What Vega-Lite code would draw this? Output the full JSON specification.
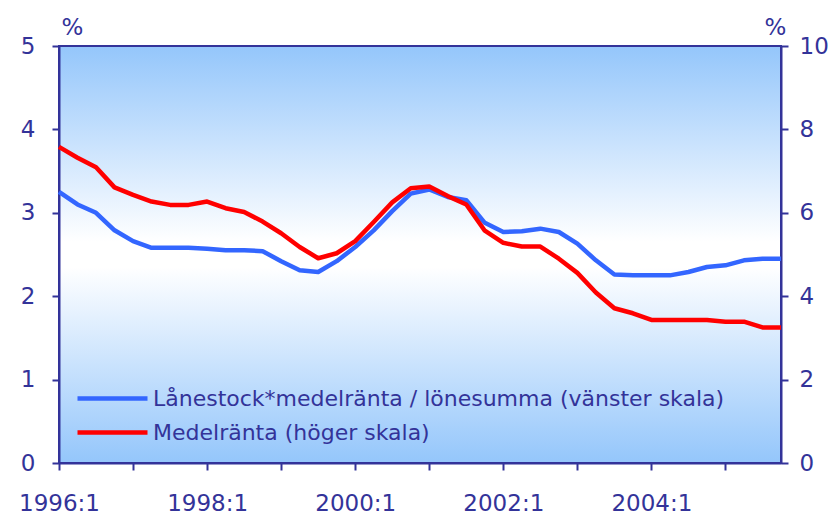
{
  "$schema": "https://vega.github.io/schema/vega-lite/v6.json",
  "width": 722,
  "height": 417,
  "autosize": {"type": "none"},
  "padding": {"left": 59, "top": 46, "right": 56, "bottom": 55},
  "background": "#ffffff",
  "config": {
    "font": "DejaVu Sans",
    "view": {
      "stroke": "#333399",
      "strokeWidth": 2,
      "fill": {"gradient": "linear", "x1": 0, "y1": 0, "x2": 0, "y2": 1,
        "stops": [{"offset": 0, "color": "#94c6fb"}, {"offset": 0.47, "color": "#ffffff"}, {"offset": 0.53, "color": "#ffffff"}, {"offset": 1, "color": "#94c6fb"}]}
    },
    "axis": {
      "domainColor": "#333399", "domainWidth": 2, "tickColor": "#333399", "tickWidth": 2, "tickSize": 7,
      "labelColor": "#333399", "labelFontSize": 23, "labelFont": "DejaVu Sans", "grid": false,
      "titleColor": "#333399", "titleFontSize": 23, "titleFontWeight": "normal", "titleFont": "DejaVu Sans"
    }
  },
  "data": {"values": [
    {"t": 1996.00, "lane": 3.25, "medel": 7.58},
    {"t": 1996.25, "lane": 3.10, "medel": 7.32},
    {"t": 1996.50, "lane": 3.00, "medel": 7.09},
    {"t": 1996.75, "lane": 2.79, "medel": 6.61},
    {"t": 1997.00, "lane": 2.66, "medel": 6.43},
    {"t": 1997.25, "lane": 2.58, "medel": 6.27},
    {"t": 1997.50, "lane": 2.58, "medel": 6.19},
    {"t": 1997.75, "lane": 2.58, "medel": 6.19},
    {"t": 1998.00, "lane": 2.57, "medel": 6.27},
    {"t": 1998.25, "lane": 2.55, "medel": 6.11},
    {"t": 1998.50, "lane": 2.55, "medel": 6.02},
    {"t": 1998.75, "lane": 2.54, "medel": 5.79},
    {"t": 1999.00, "lane": 2.42, "medel": 5.51},
    {"t": 1999.25, "lane": 2.31, "medel": 5.18},
    {"t": 1999.50, "lane": 2.29, "medel": 4.91},
    {"t": 1999.75, "lane": 2.42, "medel": 5.03},
    {"t": 2000.00, "lane": 2.59, "medel": 5.32},
    {"t": 2000.25, "lane": 2.79, "medel": 5.78},
    {"t": 2000.50, "lane": 3.02, "medel": 6.25},
    {"t": 2000.75, "lane": 3.23, "medel": 6.59},
    {"t": 2001.00, "lane": 3.28, "medel": 6.63},
    {"t": 2001.25, "lane": 3.19, "medel": 6.40},
    {"t": 2001.50, "lane": 3.15, "medel": 6.20},
    {"t": 2001.75, "lane": 2.88, "medel": 5.57},
    {"t": 2002.00, "lane": 2.77, "medel": 5.28},
    {"t": 2002.25, "lane": 2.78, "medel": 5.19},
    {"t": 2002.50, "lane": 2.81, "medel": 5.19},
    {"t": 2002.75, "lane": 2.77, "medel": 4.90},
    {"t": 2003.00, "lane": 2.63, "medel": 4.56},
    {"t": 2003.25, "lane": 2.43, "medel": 4.09},
    {"t": 2003.50, "lane": 2.26, "medel": 3.71},
    {"t": 2003.75, "lane": 2.25, "medel": 3.59},
    {"t": 2004.00, "lane": 2.25, "medel": 3.43},
    {"t": 2004.25, "lane": 2.25, "medel": 3.43},
    {"t": 2004.50, "lane": 2.29, "medel": 3.43},
    {"t": 2004.75, "lane": 2.35, "medel": 3.43},
    {"t": 2005.00, "lane": 2.37, "medel": 3.39},
    {"t": 2005.25, "lane": 2.43, "medel": 3.39},
    {"t": 2005.50, "lane": 2.45, "medel": 3.25},
    {"t": 2005.75, "lane": 2.45, "medel": 3.25}
  ]},
  "encoding": {
    "x": {
      "field": "t", "type": "quantitative",
      "scale": {"domain": [1996, 2005.75], "nice": false, "zero": false},
      "axis": {
        "title": null,
        "values": [1996, 1997, 1998, 1999, 2000, 2001, 2002, 2003, 2004, 2005],
        "labelExpr": "datum.value % 2 == 0 ? format(datum.value, 'd') + ':1' : ''",
        "labelPadding": 22, "labelFlush": false, "labelOverlap": false
      }
    }
  },
  "layer": [
    {
      "mark": {"type": "line", "strokeWidth": 4.5, "strokeJoin": "round"},
      "encoding": {
        "y": {
          "field": "lane", "type": "quantitative",
          "scale": {"domain": [0, 5], "nice": false},
          "axis": {"orient": "left", "values": [0, 1, 2, 3, 4, 5], "title": "%", "titleAngle": 0,
            "titleX": 13, "titleY": -12, "titleAlign": "center", "titleBaseline": "alphabetic", "labelPadding": 17}
        },
        "color": {
          "datum": "Lånestock*medelränta / lönesumma (vänster skala)",
          "scale": {"domain": ["Lånestock*medelränta / lönesumma (vänster skala)", "Medelränta (höger skala)"], "range": ["#3366ff", "#ff0000"]},
          "legend": {
            "title": null, "orient": "none", "legendX": 41, "legendY": 340,
            "symbolType": "M-3.5,0H3.5", "symbolSize": 400, "symbolStrokeWidth": 4.5,
            "labelFontSize": 22, "labelColor": "#333399", "labelFont": "DejaVu Sans", "labelOffset": 28,
            "rowPadding": 10, "padding": 0, "labelLimit": 700
          }
        }
      }
    },
    {
      "mark": {"type": "line", "strokeWidth": 4.5, "strokeJoin": "round"},
      "encoding": {
        "y": {
          "field": "medel", "type": "quantitative",
          "scale": {"domain": [0, 10], "nice": false},
          "axis": {"orient": "right", "values": [0, 2, 4, 6, 8, 10], "title": "%", "titleAngle": 0,
            "titleX": -6, "titleY": -12, "titleAlign": "center", "titleBaseline": "alphabetic", "labelPadding": 11}
        },
        "color": {"datum": "Medelränta (höger skala)"}
      }
    }
  ],
  "resolve": {"scale": {"y": "independent"}}
}
